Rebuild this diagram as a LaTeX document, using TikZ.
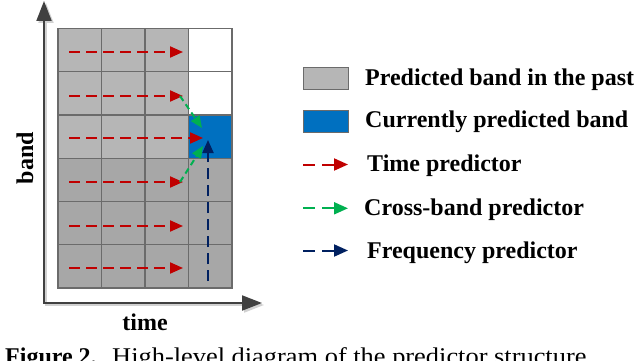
\documentclass[tikz,border=0pt]{standalone}
\usepackage{fontspec}
\setmainfont{Liberation Serif}
\newfontfamily\capfont[FakeStretch=1.1]{Liberation Serif}
\usetikzlibrary{arrows.meta}
\definecolor{lgray}{HTML}{B6B6B6}
\definecolor{dgray}{HTML}{A7A7A7}
\definecolor{gridc}{HTML}{6B6B6B}
\definecolor{cblue}{HTML}{0070C0}
\definecolor{cred}{HTML}{C00000}
\definecolor{cgreen}{HTML}{00B050}
\definecolor{cnavy}{HTML}{002060}
\definecolor{axisc}{HTML}{404040}
\begin{document}
\begin{tikzpicture}[x=1pt,y=-1pt,
  cell/.style={draw=gridc, line width=1.2pt, minimum width=43.5pt, minimum height=43.25pt, inner sep=0pt, outer sep=0pt},
  pred/.style={line width=2pt, dash pattern=on 11pt off 6pt, -{Triangle[length=13pt,width=11pt]}},
  legarrow/.style={line width=2pt, dash pattern=on 12pt off 7pt, -{Triangle[length=14pt,width=12pt]}},
  legbox/.style={draw=gridc, line width=0.8pt, minimum width=45pt, minimum height=22pt, inner sep=0pt},
  txt/.style={font=\bfseries\fontsize{24}{28}\selectfont, inner sep=0pt, anchor=base west},
  axisline/.style={draw=axisc, line width=2pt, {Triangle[length=20pt,width=15pt]}-{Triangle[length=20pt,width=15pt]}},
  axisshadow/.style={draw=black!18, line width=2pt, {Triangle[length=20pt,width=15pt]}-{Triangle[length=20pt,width=15pt]}}
]
\useasboundingbox (0,0) rectangle (640,361);
% axes
\coordinate (o) at (44,303);
\coordinate (ytip) at (44,1);
\coordinate (xtip) at (262,303);
\coordinate (os) at (46,305);
\coordinate (ytips) at (46,3);
\coordinate (xtips) at (264,305);
\draw[axisshadow] (ytips) -- (os) -- (xtips);
\draw[axisline] (ytip) -- (o) -- (xtip);
% grid
\foreach \r in {1,2,3}{
  \foreach \c in {1,2,3}{
    \node[cell,fill=lgray] (c\r\c) at ({58+43.5*(\c-0.5)},{28.5+43.25*(\r-0.5)}) {};
  }
}
\foreach \r in {4,5,6}{
  \foreach \c in {1,2,3,4}{
    \node[cell,fill=dgray] (c\r\c) at ({58+43.5*(\c-0.5)},{28.5+43.25*(\r-0.5)}) {};
  }
}
\node[cell,fill=white] (c14) at ({58+43.5*3.5},{28.5+43.25*0.5}) {};
\node[cell,fill=white] (c24) at ({58+43.5*3.5},{28.5+43.25*1.5}) {};
\node[cell,fill=cblue] (c34) at ({58+43.5*3.5},{28.5+43.25*2.5}) {};
% time predictors
\foreach \r/\y/\e in {1/52/183,2/96/183,3/138/203,4/182/183,5/226/183,6/268/183}{
  \coordinate (rs\r) at (69,\y);
  \coordinate (re\r) at (\e,\y);
  \draw[pred,cred] (rs\r) -- (re\r);
}
% cross-band predictors
\coordinate (gs1) at (180,96);
\coordinate (ge1) at (202,128);
\coordinate (gs2) at (180,182);
\coordinate (ge2) at (203,146);
\draw[pred,cgreen,dash pattern=on 6pt off 4pt,-{Triangle[length=12pt,width=10pt]}] (gs1) -- (ge1);
\draw[pred,cgreen,dash pattern=on 6pt off 4pt,-{Triangle[length=12pt,width=10pt]}] (gs2) -- (ge2);
% frequency predictor
\coordinate (fs) at (208,281);
\coordinate (fe) at (208,140);
\draw[pred,cnavy] (fs) -- (fe);
% labels
\node[font=\bfseries\fontsize{24}{28}\selectfont, inner sep=0pt, anchor=base, rotate=90] (band) at (33,158) {band};
\node[font=\bfseries\fontsize{24}{28}\selectfont, inner sep=0pt, anchor=base] (time) at (145,330) {time};
% legend
\node[legbox,fill=lgray] (lg1) at (325.5,78) {};
\node[legbox,fill=cblue] (lg2) at (325.5,121) {};
\coordinate (la1) at (303,164.5);
\coordinate (lb1) at (348,164.5);
\coordinate (la2) at (303,208.3);
\coordinate (lb2) at (348,208.3);
\coordinate (la3) at (303,250.5);
\coordinate (lb3) at (348,250.5);
\draw[legarrow,cred] (la1) -- (lb1);
\draw[legarrow,cgreen] (la2) -- (lb2);
\draw[legarrow,cnavy] (la3) -- (lb3);
\node[txt] (t1) at (365,85) {Predicted band in the past};
\node[txt] (t2) at (365,127.5) {Currently predicted band};
\node[txt] (t3) at (367,171.5) {Time predictor};
\node[txt] (t4) at (364,215) {Cross-band predictor};
\node[txt] (t5) at (367,258.5) {Frequency predictor};
% caption
\node[inner sep=0pt, anchor=base west, font=\fontsize{24}{28}\selectfont] (cap1) at (5,364.5) {\textbf{Figure 2.}};
\node[inner sep=0pt, anchor=base west, font=\capfont\fontsize{24}{28}\selectfont] (cap2) at (112,364.5) {High-level diagram of the predictor structure};
\end{tikzpicture}
\end{document}
